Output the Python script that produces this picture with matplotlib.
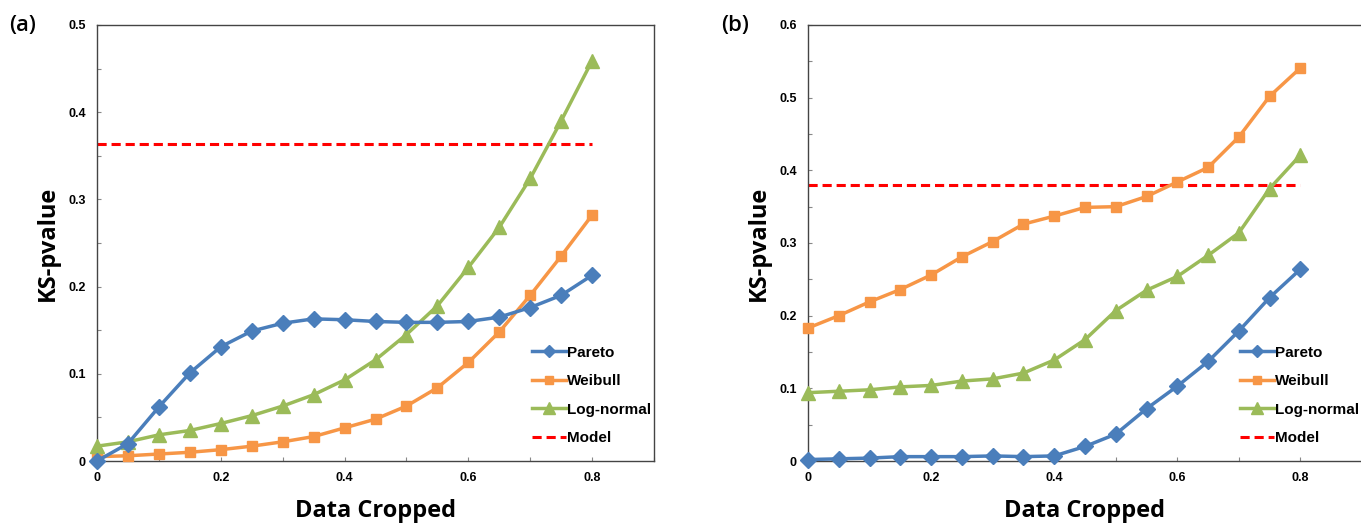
import matplotlib
matplotlib.use("Agg")
import matplotlib.pyplot as plt
from matplotlib.ticker import MultipleLocator

plt.rcParams['font.family'] = ['Liberation Sans Narrow', 'Liberation Sans', 'DejaVu Sans']

x = [0, 0.05, 0.1, 0.15, 0.2, 0.25, 0.3, 0.35, 0.4, 0.45, 0.5, 0.55, 0.6, 0.65, 0.7, 0.75, 0.8]

# panel (a)
pareto_a = [0.0, 0.020, 0.062, 0.101, 0.131, 0.149, 0.158, 0.163, 0.162, 0.160, 0.159, 0.159, 0.160, 0.165, 0.176, 0.190, 0.213]
weibull_a = [0.005, 0.006, 0.008, 0.010, 0.013, 0.017, 0.022, 0.028, 0.038, 0.048, 0.063, 0.084, 0.113, 0.148, 0.190, 0.235, 0.282]
lognorm_a = [0.017, 0.022, 0.030, 0.035, 0.043, 0.052, 0.063, 0.076, 0.093, 0.116, 0.145, 0.178, 0.222, 0.268, 0.324, 0.390, 0.459]
model_a = 0.363

# panel (b)
pareto_b = [0.002, 0.003, 0.004, 0.006, 0.006, 0.006, 0.007, 0.006, 0.007, 0.020, 0.037, 0.072, 0.103, 0.137, 0.179, 0.225, 0.264]
weibull_b = [0.183, 0.200, 0.219, 0.236, 0.256, 0.281, 0.302, 0.326, 0.337, 0.349, 0.350, 0.364, 0.384, 0.404, 0.446, 0.502, 0.541]
lognorm_b = [0.094, 0.096, 0.098, 0.102, 0.104, 0.110, 0.113, 0.121, 0.139, 0.167, 0.207, 0.235, 0.254, 0.283, 0.314, 0.375, 0.421]
model_b = 0.38

BLUE = "#4A7EBB"
ORANGE = "#F79646"
GREEN = "#9BBB59"
RED = "#FF0000"

fig = plt.figure(figsize=(13.61, 5.25), dpi=100)
ax1 = fig.add_axes([97/1361, 1-461/525, 557/1361, 436/525])
ax2 = fig.add_axes([808/1361, 1-461/525, 554/1361, 436/525])


def draw(ax, pareto, weibull, lognorm, model, ymax, tag):
    ax.plot(x, pareto, "-D", color=BLUE, lw=2.5, ms=8, label="Pareto", clip_on=False, zorder=4)
    ax.plot(x, weibull, "-s", color=ORANGE, lw=2.5, ms=7, label="Weibull", clip_on=False, zorder=3)
    ax.plot(x, lognorm, "-^", color=GREEN, lw=2.5, ms=10, label="Log-normal", clip_on=False, zorder=3)
    ax.plot([x[0], x[-1]], [model, model], "--", color=RED, lw=2.2, label="Model", dashes=(3, 1.6))
    ax.set_xlim(0, 0.9)
    ax.set_ylim(0, ymax)
    ax.xaxis.set_major_locator(MultipleLocator(0.2))
    ax.xaxis.set_minor_locator(MultipleLocator(0.1))
    ax.yaxis.set_major_locator(MultipleLocator(0.1))
    ax.yaxis.set_minor_locator(MultipleLocator(0.05))
    ax.xaxis.set_major_formatter(plt.FuncFormatter(lambda v, p: "%g" % round(v, 2)))
    ax.yaxis.set_major_formatter(plt.FuncFormatter(lambda v, p: "%g" % round(v, 2)))
    ax.tick_params(which="both", direction="in", length=3, width=0.8, color="#888888")
    ax.tick_params(labelsize=9, pad=8)
    for t in ax.get_xticklabels() + ax.get_yticklabels():
        t.set_fontweight("bold")
    for s in ax.spines.values():
        s.set_color("#444444")
        s.set_linewidth(1.0)
    ax.set_xlabel("Data Cropped", fontsize=17, fontweight="bold", labelpad=11, family=['Open Sans', 'DejaVu Sans'])
    ax.set_ylabel("KS-pvalue", fontsize=17, fontweight="bold", labelpad=6, family=['Open Sans', 'DejaVu Sans'])
    ax.legend(loc="lower right", bbox_to_anchor=(1.02, 0.005), frameon=False,
              prop={"weight": "bold", "size": 11}, handlelength=2.2,
              handletextpad=0.1, labelspacing=0.95, markerscale=0.8)
    ax.text(-0.157, 1.0, tag, transform=ax.transAxes, fontsize=16, va="center", ha="left",
            family=['Open Sans', 'DejaVu Sans'], fontweight="semibold")


draw(ax1, pareto_a, weibull_a, lognorm_a, model_a, 0.5, "(a)")
draw(ax2, pareto_b, weibull_b, lognorm_b, model_b, 0.6, "(b)")

fig.savefig("out.png", dpi=100)
